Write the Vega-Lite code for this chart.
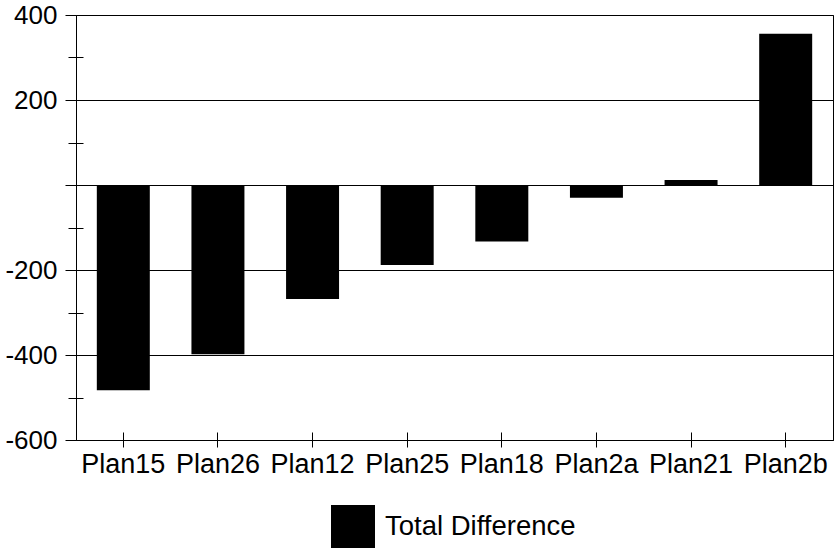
{
  "$schema": "https://vega.github.io/schema/vega-lite/v6.json",
  "width": 757,
  "height": 425,
  "autosize": "none",
  "padding": {"left": 76, "top": 15, "right": 3, "bottom": 108},
  "background": "white",
  "config": {
    "view": {"stroke": "black", "strokeWidth": 1},
    "font": "Liberation Sans",
    "axis": {"labelFont": "Liberation Sans", "labelColor": "black", "domainColor": "black", "tickColor": "black", "gridColor": "black", "gridOpacity": 1, "domainWidth": 1, "tickWidth": 1, "gridWidth": 1}
  },
  "data": {
    "values": [
      {"plan": "Plan15", "series": "Total Difference", "value": -483},
      {"plan": "Plan26", "series": "Total Difference", "value": -398},
      {"plan": "Plan12", "series": "Total Difference", "value": -268},
      {"plan": "Plan25", "series": "Total Difference", "value": -188},
      {"plan": "Plan18", "series": "Total Difference", "value": -133},
      {"plan": "Plan2a", "series": "Total Difference", "value": -30},
      {"plan": "Plan21", "series": "Total Difference", "value": 12},
      {"plan": "Plan2b", "series": "Total Difference", "value": 356}
    ]
  },
  "resolve": {"scale": {"y": "shared", "x": "shared"}, "axis": {"y": "independent", "x": "independent"}},
  "layer": [
    {
      "mark": {"type": "bar"},
      "encoding": {
        "x": {
          "field": "plan", "type": "nominal", "sort": null,
          "scale": {"paddingInner": 0.44, "paddingOuter": 0.22},
          "axis": {"orient": "bottom", "title": null, "labelAngle": 0, "labelFontSize": 27, "labelPadding": 4, "tickSize": 7, "domain": true, "grid": false}
        },
        "y": {
          "field": "value", "type": "quantitative",
          "scale": {"domain": [-600, 400], "nice": false, "zero": false},
          "axis": {"orient": "left", "title": null, "values": [-600, -400, -200, 0, 200, 400], "labelExpr": "datum.value === 0 ? '' : '' + datum.value", "labelFontSize": 26, "labelPadding": 8, "tickSize": 11, "grid": true, "domain": true}
        },
        "color": {
          "field": "series", "type": "nominal",
          "scale": {"range": ["black"]},
          "legend": {"orient": "none", "legendX": 255, "legendY": 490, "title": null, "symbolType": "square", "symbolSize": 1936, "symbolStrokeWidth": 0, "labelFontSize": 27.5, "labelFont": "Liberation Sans", "labelColor": "black", "labelOffset": 10, "labelLimit": 0, "padding": 0}
        }
      }
    },
    {
      "mark": {"type": "bar", "opacity": 0},
      "encoding": {
        "x": {
          "field": "plan", "type": "nominal", "sort": null,
          "axis": {"orient": "bottom", "title": null, "labels": false, "tickSize": -8, "domain": false, "grid": false}
        },
        "y": {
          "field": "value", "type": "quantitative",
          "axis": {"orient": "left", "title": null, "values": [-500, -300, -100, 100, 300], "labels": false, "tickSize": 8, "grid": false, "domain": false}
        }
      }
    },
    {
      "mark": {"type": "bar", "opacity": 0},
      "encoding": {
        "x": {"field": "plan", "type": "nominal", "sort": null, "axis": null},
        "y": {
          "field": "value", "type": "quantitative",
          "axis": {"orient": "left", "title": null, "values": [-500, -300, -100, 100, 300], "labels": false, "tickSize": -7, "grid": false, "domain": false}
        }
      }
    }
  ]
}
